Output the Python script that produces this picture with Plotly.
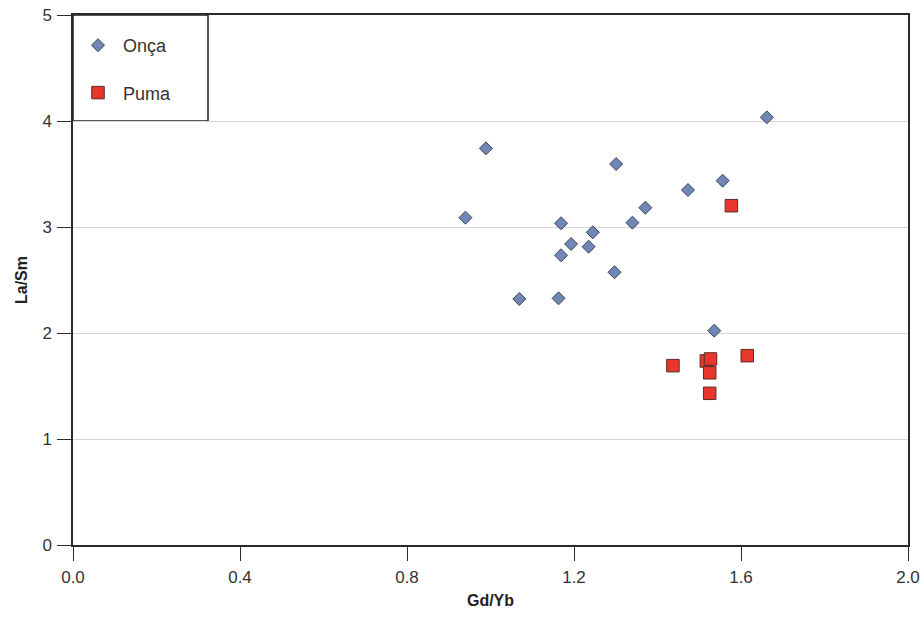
import plotly.graph_objects as go

# Data
onca_gdyb = [0.940, 0.989, 1.069, 1.163, 1.169, 1.169, 1.193, 1.235, 1.245,
             1.297, 1.301, 1.340, 1.371, 1.473, 1.556, 1.536, 1.662]
onca_lasm = [3.088, 3.742, 2.321, 2.327, 3.035, 2.733, 2.840, 2.814, 2.950,
             2.573, 3.594, 3.041, 3.182, 3.349, 3.437, 2.022, 4.035]

puma_gdyb = [1.437, 1.517, 1.527, 1.525, 1.525, 1.615, 1.577]
puma_lasm = [1.692, 1.736, 1.755, 1.625, 1.431, 1.786, 3.201]

x_ticks = [0.0, 0.4, 0.8, 1.2, 1.6, 2.0]
x_tick_labels = ["0.0", "0.4", "0.8", "1.2", "1.6", "2.0"]
y_ticks = [0, 1, 2, 3, 4, 5]

fig = go.Figure()
fig.add_trace(go.Scatter(
    x=onca_gdyb, y=onca_lasm, mode="markers", name="Onça",
    legendgroup="a",
    marker=dict(symbol="diamond", size=10, color="#6F86B6",
                line=dict(color="#3E4656", width=1)),
))
fig.add_trace(go.Scatter(
    x=puma_gdyb, y=puma_lasm, mode="markers", name="Puma",
    legendgroup="b",
    marker=dict(symbol="square", size=12.5, color="#E8362C",
                line=dict(color="#5A2A26", width=1)),
))

axis_font = dict(family="Liberation Sans, Arial", size=17, color="#333")
title_font = dict(family="Liberation Sans, Arial", size=16, color="#222")

plot_h = 617 - 15 - 72
plot_w = 920 - 73 - 12

# Legend frame (box drawn in the upper-left corner of the plot area)
fig.add_shape(type="rect", xref="paper", yref="paper",
              x0=0, x1=(208 - 73) / plot_w, y0=(545 - 121) / plot_h, y1=1,
              line=dict(color="#222", width=1.5), fillcolor="white", layer="below")

fig.update_layout(
    width=920, height=617,
    margin=dict(l=73, r=12, t=15, b=72),
    paper_bgcolor="white", plot_bgcolor="white",
    showlegend=True,
    legend=dict(x=0, y=1 - 12 / plot_h, xanchor="left", yanchor="top",
                bgcolor="rgba(255,255,255,0)",
                borderwidth=0,
                font=dict(family="Liberation Sans, Arial", size=18, color="#333"),
                tracegroupgap=21, itemwidth=40),
    xaxis=dict(
        range=[0, 2.0], tickvals=x_ticks, ticktext=x_tick_labels,
        showgrid=False, zeroline=False, automargin=False,
        showline=True, linecolor="#2a2a2a", linewidth=1.5, mirror=True,
        ticks="outside", ticklen=14, tickcolor="#2a2a2a", tickwidth=1.2,
        tickfont=axis_font, ticklabelstandoff=2,
        title=dict(text="<b>Gd/Yb</b>", font=title_font, standoff=9),
    ),
    yaxis=dict(
        range=[0, 5], tickvals=y_ticks,
        showgrid=True, gridcolor="#d6d6d6", gridwidth=1,
        zeroline=False, automargin=False,
        showline=True, linecolor="#2a2a2a", linewidth=1.5, mirror=True,
        ticks="outside", ticklen=14, tickcolor="#2a2a2a", tickwidth=1.2,
        tickfont=axis_font, ticklabelstandoff=2,
        title=dict(text="<b>La/Sm</b>", font=title_font, standoff=11),
    ),
)

fig.write_html("out.html")
